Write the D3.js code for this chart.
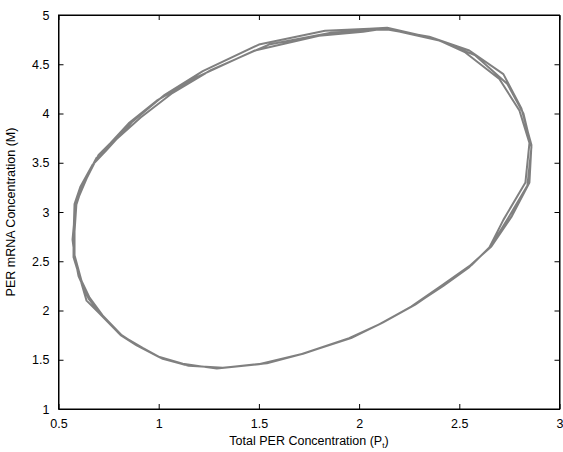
<!DOCTYPE html>
<html>
<head>
<meta charset="utf-8">
<script src="https://cdn.jsdelivr.net/npm/d3@7"></script>
<style>
  body { margin: 0; background: #fff; }
  text { font-family: "Liberation Sans", Arial, Helvetica, sans-serif; fill: #000; }
</style>
</head>
<body>
<script>
// three passes around the limit cycle
var loop1 = [[0.575,2.75],[0.58,3.08],[0.61,3.26],[0.67,3.48],[0.74,3.63],[0.87,3.92],[1.03,4.19],[1.22,4.43],[1.50,4.70],[1.83,4.84],[2.05,4.86],[2.14,4.87],[2.38,4.76],[2.53,4.62],[2.70,4.35],[2.80,4.03],[2.85,3.70],[2.83,3.30],[2.72,2.92],[2.65,2.64],[2.55,2.44],[2.42,2.25],[2.27,2.05],[2.10,1.86],[1.95,1.72],[1.70,1.55],[1.54,1.465],[1.29,1.41],[1.12,1.46],[1.00,1.53],[0.89,1.645],[0.81,1.75],[0.70,1.98],[0.64,2.10],[0.61,2.31],[0.575,2.54],[0.575,2.75]];
var loop2 = [[0.57,2.72],[0.585,3.05],[0.625,3.30],[0.69,3.55],[0.79,3.74],[0.91,3.96],[1.07,4.21],[1.26,4.44],[1.55,4.70],[1.86,4.82],[2.08,4.85],[2.16,4.85],[2.40,4.74],[2.58,4.59],[2.74,4.30],[2.82,4.00],[2.86,3.66],[2.84,3.27],[2.75,2.96],[2.66,2.66],[2.56,2.46],[2.43,2.27],[2.28,2.06],[2.12,1.88],[1.97,1.73],[1.72,1.56],[1.50,1.455],[1.32,1.42],[1.15,1.44],[1.02,1.51],[0.92,1.62],[0.82,1.74],[0.72,1.95],[0.655,2.13],[0.615,2.30],[0.58,2.56],[0.57,2.72]];
var loop3 = [[0.58,2.80],[0.59,3.10],[0.64,3.34],[0.70,3.58],[0.76,3.70],[0.85,3.90],[0.99,4.13],[1.19,4.37],[1.48,4.64],[1.80,4.79],[2.02,4.83],[2.12,4.86],[2.35,4.78],[2.55,4.64],[2.72,4.40],[2.81,4.05],[2.86,3.68],[2.85,3.30],[2.76,2.95],[2.66,2.65],[2.55,2.45],[2.41,2.25],[2.26,2.04],[2.11,1.87],[1.96,1.72],[1.71,1.555],[1.52,1.46],[1.30,1.415],[1.13,1.45],[1.01,1.52],[0.90,1.635],[0.80,1.77],[0.71,1.965],[0.65,2.12],[0.60,2.35],[0.58,2.56],[0.58,2.80]];

var xTicks = [0.5, 1, 1.5, 2, 2.5, 3];
var yTicks = [1, 1.5, 2, 2.5, 3, 3.5, 4, 4.5, 5];

var margin = { top: 15, right: 3.5, bottom: 43, left: 58.5 },
    width = 563 - margin.left - margin.right,
    height = 452 - margin.top - margin.bottom,
    tickLen = 5;

var svg = d3.select(document.body).append("svg")
    .attr("width", 563)
    .attr("height", 452)
    .append("g")
    .attr("transform", "translate(" + margin.left + "," + margin.top + ")");

var x = d3.scaleLinear().domain([0.5, 3]).range([0, width]);
var y = d3.scaleLinear().domain([1, 5]).range([height, 0]);

var fmt = function (d) { return String(d); };

// bottom / left with labels, top / right ticks only (box on)
svg.append("g")
    .attr("transform", "translate(0," + height + ")")
    .call(d3.axisBottom(x).tickValues(xTicks).tickFormat(fmt).tickSizeInner(-tickLen).tickSizeOuter(0).tickPadding(10));
svg.append("g")
    .call(d3.axisTop(x).tickValues(xTicks).tickFormat("").tickSizeInner(-tickLen).tickSizeOuter(0));
svg.append("g")
    .call(d3.axisLeft(y).tickValues(yTicks).tickFormat(fmt).tickSizeInner(-tickLen).tickSizeOuter(0).tickPadding(9));
svg.append("g")
    .attr("transform", "translate(" + width + ",0)")
    .call(d3.axisRight(y).tickValues(yTicks).tickFormat("").tickSizeInner(-tickLen).tickSizeOuter(0));

svg.selectAll(".tick text")
    .attr("style", "font-size: 12.5px; font-family: 'Liberation Sans', Arial, sans-serif;");
svg.selectAll(".domain").attr("stroke", "#000");
svg.selectAll(".tick line").attr("stroke", "#000");

var line = d3.line()
    .x(function (d) { return x(d[0]); })
    .y(function (d) { return y(d[1]); });

svg.append("path")
    .datum(loop1.concat(loop2, loop3))
    .attr("fill", "none")
    .attr("stroke", "#808080")
    .attr("stroke-width", 2)
    .attr("stroke-linejoin", "round")
    .attr("d", line);

// box outline
svg.append("rect")
    .attr("width", width)
    .attr("height", height)
    .attr("fill", "none")
    .attr("stroke", "#000")
    .attr("stroke-width", 1);

var xLabel = svg.append("text")
    .attr("x", width / 2)
    .attr("y", height + 36)
    .attr("text-anchor", "middle")
    .attr("style", "font-size: 12.5px;");
xLabel.append("tspan").text("Total PER Concentration (P");
xLabel.append("tspan").attr("dy", 3).attr("style", "font-size: 8px;").text("t");
xLabel.append("tspan").attr("dy", -3).text(")");

svg.append("text")
    .attr("transform", "translate(-44," + (height / 2) + ") rotate(-90)")
    .attr("text-anchor", "middle")
    .attr("style", "font-size: 12.5px;")
    .text("PER mRNA Concentration (M)");
</script>
</body>
</html>
